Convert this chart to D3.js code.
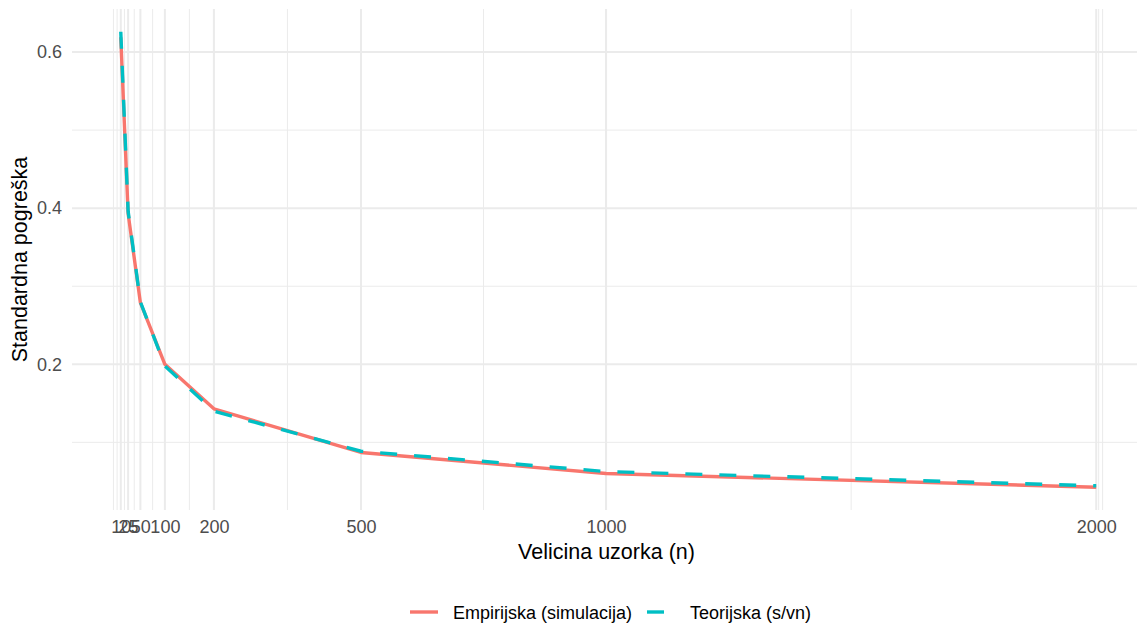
<!DOCTYPE html>
<html>
<head>
<meta charset="utf-8">
<script src="https://d3js.org/d3.v7.min.js"></script>
<style>
  body { margin: 0; background: #fff; }
  svg { font-family: "Liberation Sans", Arial, sans-serif; }
</style>
</head>
<body>
<div id="chart"></div>
<script>
// sample sizes and standard errors
const sizes = [10, 25, 50, 100, 200, 500, 1000, 2000];
const empirical = [0.619, 0.393, 0.279, 0.200, 0.143, 0.087, 0.060, 0.0425];
const theoretical = [0.626, 0.396, 0.280, 0.198, 0.140, 0.0886, 0.0626, 0.0443];
const yTicks = [0.2, 0.4, 0.6];
const yMinor = [0.1, 0.3, 0.5];
const xMinor = [-5, 2.5, 17.5, 37.5, 75, 150, 350, 750, 1500, 2005, 2013];
const seriesNames = ["Empirijska (simulacija)", "Teorijska (s/vn)"];
const colors = ["#F8766D", "#00BFC4"];

const W = 1137, H = 626;
const panel = { left: 72, right: 1145, top: 9, bottom: 510 };

const svg = d3.select("#chart").append("svg")
  .attr("width", W).attr("height", H);

// ggplot style 5% expansion
function expand(ext) {
  const d = ext[1] - ext[0];
  return [ext[0] - 0.05 * d, ext[1] + 0.05 * d];
}
const allY = empirical.concat(theoretical);
const x = d3.scaleLinear().domain(expand(d3.extent(sizes))).range([panel.left, panel.right]);
const y = d3.scaleLinear().domain(expand(d3.extent(allY))).range([panel.bottom, panel.top]);

const grid = svg.append("g");
grid.selectAll(".hmin").data(yMinor).join("line")
  .attr("x1", panel.left).attr("x2", W)
  .attr("y1", d => y(d)).attr("y2", d => y(d))
  .attr("stroke", "#EBEBEB").attr("stroke-width", 1);
grid.selectAll(".vmin").data(xMinor).join("line")
  .attr("x1", d => x(d)).attr("x2", d => x(d))
  .attr("y1", panel.top).attr("y2", panel.bottom)
  .attr("stroke", "#EBEBEB").attr("stroke-width", 1);
grid.selectAll(".hmaj").data(yTicks).join("line")
  .attr("x1", panel.left).attr("x2", W)
  .attr("y1", d => y(d)).attr("y2", d => y(d))
  .attr("stroke", "#EBEBEB").attr("stroke-width", 2);
grid.selectAll(".vmaj").data(sizes).join("line")
  .attr("x1", d => x(d)).attr("x2", d => x(d))
  .attr("y1", panel.top).attr("y2", panel.bottom)
  .attr("stroke", "#EBEBEB").attr("stroke-width", 2);

// axes (labels only, like theme_minimal)
const xAxis = svg.append("g")
  .attr("transform", `translate(0,${panel.bottom + 4})`)
  .call(d3.axisBottom(x).tickValues(sizes).tickSize(0).tickPadding(6).tickFormat(d3.format("d")));
const yAxis = svg.append("g")
  .attr("transform", `translate(${panel.left - 4},0)`)
  .call(d3.axisLeft(y).tickValues(yTicks).tickSize(0).tickPadding(6).tickFormat(d3.format(".1f")));
[xAxis, yAxis].forEach(a => {
  a.select(".domain").remove();
  a.selectAll("text").attr("fill", "#4D4D4D").style("font-size", "18px")
    .style("font-family", "'Liberation Sans', Arial, sans-serif");
});

svg.append("text")
  .attr("x", (panel.left + W) / 2 + 2).attr("y", 559)
  .attr("text-anchor", "middle").style("font-size", "21.5px")
  .text("Velicina uzorka (n)");
svg.append("text")
  .attr("transform", `translate(27,${(panel.top + panel.bottom) / 2}) rotate(-90)`)
  .attr("text-anchor", "middle").style("font-size", "21.5px")
  .text("Standardna pogreška");

const line = d3.line().x((d, i) => x(sizes[i])).y(d => y(d));
svg.append("path").datum(empirical)
  .attr("d", line).attr("fill", "none")
  .attr("stroke", colors[0]).attr("stroke-width", 3.4)
  .attr("stroke-linejoin", "round");
svg.append("path").datum(theoretical)
  .attr("d", line).attr("fill", "none")
  .attr("stroke", colors[1]).attr("stroke-width", 3.4)
  .attr("stroke-dasharray", "17,17");

// legend
const legend = svg.append("g");
const keyX = [410, 647], textX = [453, 690];
seriesNames.forEach((name, i) => {
  legend.append("line")
    .attr("x1", keyX[i]).attr("x2", keyX[i] + 28)
    .attr("y1", 612).attr("y2", 612)
    .attr("stroke", colors[i]).attr("stroke-width", 3.4)
    .attr("stroke-dasharray", i === 1 ? "17,17" : null);
  legend.append("text")
    .attr("x", textX[i]).attr("y", 619)
    .style("font-size", "18px")
    .text(name);
});
</script>
</body>
</html>
